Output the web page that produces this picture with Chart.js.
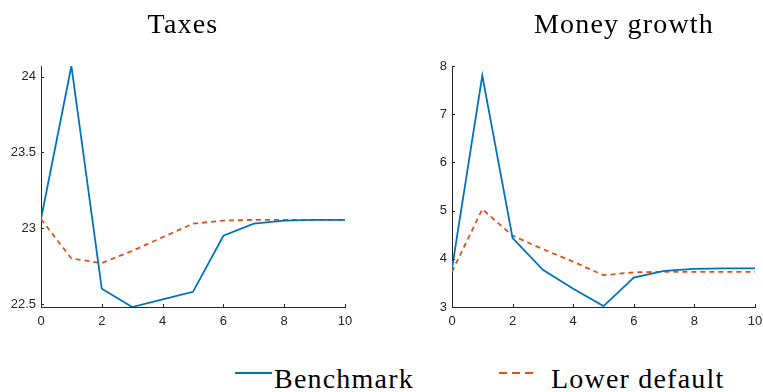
<!DOCTYPE html>
<html>
<head>
<meta charset="utf-8">
<script src="https://cdn.jsdelivr.net/npm/chart.js@4.4.1/dist/chart.umd.min.js"></script>
<style>
  body { margin: 0; background: #fff; }
  #wrap { position: relative; width: 763px; height: 392px; overflow: hidden; background: #fff; }
  canvas { position: absolute; top: 0; }
  .serif { position: absolute; font-family: "Liberation Serif", "Times New Roman", serif; font-size: 28px; line-height: 28px; color: #000; letter-spacing: 1.2px; white-space: nowrap; }
  .title { text-align: center; width: 300px; top: 10px; }
</style>
</head>
<body>
<div id="wrap">
  <canvas id="taxChart"></canvas>
  <canvas id="moneyChart"></canvas>
  <div class="serif title" style="left: 33px;">Taxes</div>
  <div class="serif title" style="left: 474px;">Money growth</div>
  <div id="legend"></div>
</div>
<script>
const steps = [0, 1, 2, 3, 4, 5, 6, 7, 8, 9, 10];
const xTicks = [0, 2, 4, 6, 8, 10];

const taxBenchmark = [23.06, 24.07, 22.60, 22.48, 22.53, 22.58, 22.95, 23.03, 23.05, 23.055, 23.055];
const taxLowerDefault = [23.06, 22.80, 22.77, 22.85, 22.94, 23.03, 23.05, 23.055, 23.055, 23.055, 23.055];
const taxTicks = [22.5, 23, 23.5, 24];

const moneyBenchmark = [3.80, 7.80, 4.43, 3.77, 3.38, 3.02, 3.61, 3.75, 3.79, 3.80, 3.80];
const moneyLowerDefault = [3.73, 5.03, 4.48, 4.20, 3.94, 3.66, 3.72, 3.73, 3.73, 3.73, 3.73];
const moneyTicks = [3, 4, 5, 6, 7, 8];

const seriesNames = ['Benchmark', 'Lower default'];
const seriesColors = ['#0072BD', '#D95319'];
const seriesDash = [[], [5, 4]];

Chart.defaults.font.family = '"Liberation Sans", Arial, sans-serif';
Chart.defaults.font.size = 13;
Chart.defaults.color = '#262626';

// MATLAB style ticks pointing into the plot
const inwardTicks = {
    id: 'inwardTicks',
    afterDatasetsDraw(chart) {
        const ctx = chart.ctx;
        const x = chart.scales.x, y = chart.scales.y;
        ctx.save();
        ctx.strokeStyle = '#262626';
        ctx.lineWidth = 1;
        ctx.beginPath();
        x.ticks.forEach(t => {
            const px = Math.round(x.getPixelForValue(t.value)) + 0.5;
            ctx.moveTo(px, chart.chartArea.bottom);
            ctx.lineTo(px, chart.chartArea.bottom - 3);
        });
        y.ticks.forEach(t => {
            const py = Math.round(y.getPixelForValue(t.value)) + 0.5;
            ctx.moveTo(chart.chartArea.left, py);
            ctx.lineTo(chart.chartArea.left + 3, py);
        });
        ctx.stroke();
        ctx.restore();
    }
};

function makeChart(id, left, width, seriesA, seriesB, yMin, yMax, yTicks, yAxisWidth, padRight) {
    const canvas = document.getElementById(id);
    canvas.style.left = left + 'px';
    canvas.width = width;
    canvas.height = 340;
    const toPoints = arr => steps.map((s, i) => ({ x: s, y: arr[i] }));
    return new Chart(canvas, {
        type: 'line',
        data: {
            datasets: [seriesA, seriesB].map((arr, i) => ({
                label: seriesNames[i],
                data: toPoints(arr),
                borderColor: seriesColors[i],
                borderDash: seriesDash[i],
                borderWidth: 1.8,
                pointRadius: 0,
                tension: 0
            }))
        },
        options: {
            responsive: false,
            animation: false,
            layout: { padding: { left: 0, right: padRight, top: 66, bottom: 8 } },
            plugins: { legend: { display: false }, tooltip: { enabled: false } },
            scales: {
                x: {
                    type: 'linear',
                    min: 0,
                    max: 10,
                    afterBuildTicks: s => { s.ticks = xTicks.map(v => ({ value: v })); },
                    afterFit: s => { s.height = 25; },
                    grid: { display: false, drawTicks: false },
                    border: { color: '#262626', width: 1 },
                    ticks: { padding: 7, maxRotation: 0, callback: v => String(v) }
                },
                y: {
                    min: yMin,
                    max: yMax,
                    afterBuildTicks: s => { s.ticks = yTicks.map(v => ({ value: v })); },
                    afterFit: s => { s.width = yAxisWidth; },
                    grid: { display: false, drawTicks: false },
                    border: { color: '#262626', width: 1 },
                    ticks: { padding: 5, callback: v => String(v) }
                }
            }
        },
        plugins: [inwardTicks]
    });
}

makeChart('taxChart', 0, 380, taxBenchmark, taxLowerDefault, 22.48, 24.07, taxTicks, 41, 35);
makeChart('moneyChart', 400, 380, moneyBenchmark, moneyLowerDefault, 3, 8, moneyTicks, 52, 25);

// shared legend below both panels
const legendPos = [{ line: 235, text: 274 }, { line: 499, text: 551 }];
const legend = document.getElementById('legend');
seriesNames.forEach((name, i) => {
    const p = legendPos[i];
    const svg = document.createElementNS('http://www.w3.org/2000/svg', 'svg');
    svg.setAttribute('width', '40');
    svg.setAttribute('height', '6');
    svg.style.position = 'absolute';
    svg.style.left = p.line + 'px';
    svg.style.top = '370px';
    const ln = document.createElementNS('http://www.w3.org/2000/svg', 'line');
    ln.setAttribute('x1', '0');
    ln.setAttribute('x2', i === 0 ? '37' : '39');
    ln.setAttribute('y1', '3');
    ln.setAttribute('y2', '3');
    ln.setAttribute('stroke', seriesColors[i]);
    ln.setAttribute('stroke-width', '2');
    if (seriesDash[i].length) ln.setAttribute('stroke-dasharray', '8,5');
    svg.appendChild(ln);
    legend.appendChild(svg);
    const label = document.createElement('div');
    label.className = 'serif';
    label.style.left = p.text + 'px';
    label.style.top = '365px';
    label.textContent = name;
    legend.appendChild(label);
});
</script>
</body>
</html>
